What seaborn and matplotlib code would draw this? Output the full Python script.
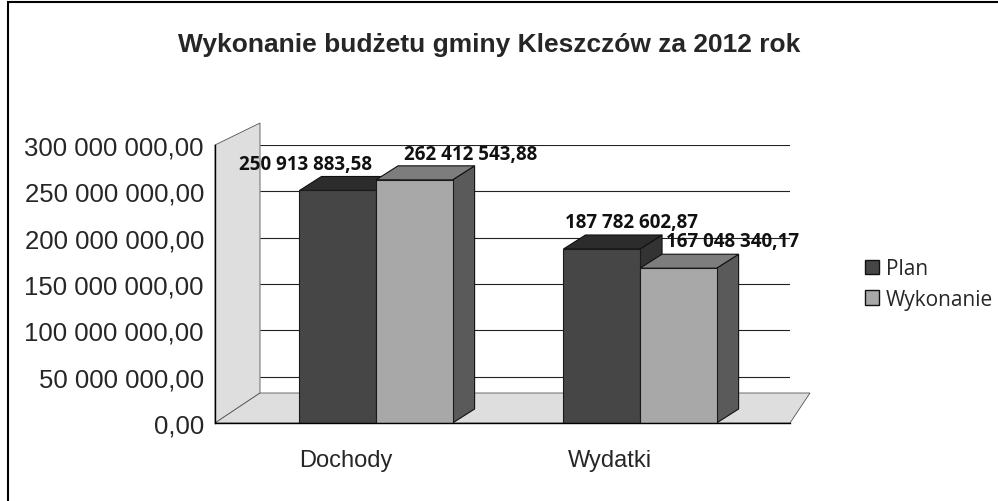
import matplotlib
matplotlib.use("Agg")
import matplotlib.pyplot as plt
import matplotlib.ticker as mticker
import matplotlib.transforms as mtransforms
from matplotlib.patches import Polygon, Rectangle
import seaborn as sns
import pandas as pd

# dane z wykresu
categories = ["Dochody", "Wydatki"]
series = ["Plan", "Wykonanie"]
plan = [250913883.58, 187782602.87]
wykonanie = [262412543.88, 167048340.17]
y_ticks = [0, 50e6, 100e6, 150e6, 200e6, 250e6, 300e6]

df = pd.DataFrame({
    "kategoria": categories * 2,
    "seria": [series[0]] * len(categories) + [series[1]] * len(categories),
    "kwota": plan + wykonanie,
})


def pl_format(v, pos=None):
    # 250 913 883,58
    return "{:,.2f}".format(v).replace(",", " ").replace(".", ",")


sns.set_style("white")
plt.rcParams["font.family"] = ["Liberation Sans", "DejaVu Sans"]

fig = plt.figure(figsize=(9.98, 5.02), dpi=100)
ax = fig.add_axes([215 / 998, 1 - 424 / 502, (790 - 215) / 998, (424 - 146) / 502])

front = {"Plan": "#464646", "Wykonanie": "#a8a8a8"}
top = {"Plan": "#2c2c2c", "Wykonanie": "#7d7d7d"}
side = {"Plan": "#333333", "Wykonanie": "#5a5a5a"}
wall = "#dedede"

sns.barplot(data=df, x="kategoria", y="kwota", hue="seria", palette=front,
            width=0.58, ax=ax, legend=False, edgecolor="#1a1a1a", linewidth=0.8)

ax.set_xlim(-0.61, 1.568)
ax.set_ylim(0, 300e6)
ax.set_yticks(y_ticks)
ax.yaxis.set_major_formatter(mticker.FuncFormatter(pl_format))
ax.set_xlabel("")
ax.set_ylabel("")

for s in ["top", "right"]:
    ax.spines[s].set_visible(False)
for s in ["left", "bottom"]:
    ax.spines[s].set_color("black")
    ax.spines[s].set_linewidth(1.0)

ax.tick_params(axis="y", which="major", direction="out", length=6, width=1,
               color="black", labelsize=18.5, pad=2)
ax.tick_params(axis="x", which="major", length=0, labelsize=17, pad=19)
ax.xaxis.set_minor_locator(mticker.FixedLocator([0.5]))
ax.tick_params(axis="x", which="minor", direction="out", length=7, width=1, color="black")

# etykiety kategorii troche w lewo (jak w wykresie 3D)
shift = mtransforms.ScaledTranslation(-0.30, 0, fig.dpi_scale_trans)
for lbl in ax.get_xticklabels():
    lbl.set_transform(lbl.get_transform() + shift)

fig.canvas.draw()
ident = mtransforms.IdentityTransform()

# sciana boczna i podloga (jasnoszare)
wx, wy = 45, 30
(xl, yb), (xr, yt) = ax.transAxes.transform([(0, 0), (1, 1)])
left_wall = [(xl, yb), (xl, yt), (xl + wx, yt + 22), (xl + wx, yb + wy)]
floor = [(xl, yb), (xr, yb), (xr + 20, yb + wy), (xl + wx, yb + wy)]
for pts in [left_wall, floor]:
    ax.add_patch(Polygon(pts, closed=True, facecolor=wall, edgecolor="#555555",
                         linewidth=0.6, transform=ident, clip_on=False, zorder=0.3))

# linie siatki na tylnej scianie
ax.hlines([t for t in y_ticks if t > 0], wx / (xr - xl), 1,
          transform=ax.get_yaxis_transform(), color="#222222", linewidth=0.8, zorder=0.5)

# pseudo 3D - gorna i boczna sciana slupka
dx, dy = 22, 14
bars = sorted(ax.patches[:4], key=lambda p: p.get_x())
names = [s for c in categories for s in series]
for p, name in zip(bars, names):
    (x0, y0), (x1, y1) = ax.transData.transform(
        [(p.get_x(), 0), (p.get_x() + p.get_width(), p.get_height())])
    top_face = [(x0, y1), (x1, y1), (x1 + dx, y1 + dy), (x0 + dx, y1 + dy)]
    side_face = [(x1, y0), (x1 + dx, y0 + dy), (x1 + dx, y1 + dy), (x1, y1)]
    for pts, col in [(side_face, side[name]), (top_face, top[name])]:
        ax.add_patch(Polygon(pts, closed=True, facecolor=col, edgecolor="#111111",
                             linewidth=0.8, transform=ident,
                             clip_on=False, zorder=0.9))

# etykiety wartosci
label_offsets = [(-32, 26), (56, 26), (30, 27), (54, 27)]
for p, (ox, oy) in zip(bars, label_offsets):
    ax.annotate(pl_format(p.get_height()),
                (p.get_x() + p.get_width() / 2, p.get_height()),
                xytext=(ox, oy), textcoords="offset pixels",
                ha="center", va="center", fontsize=13.5, fontweight="bold",
                family=["Open Sans", "DejaVu Sans"], color="#111111",
                annotation_clip=False, zorder=5)

fig.suptitle("Wykonanie budżetu gminy Kleszczów za 2012 rok", x=489 / 998, y=1 - 45 / 502,
             va="center", fontsize=19, fontweight="bold")

handles = [Rectangle((0, 0), 1, 1, facecolor=front[s], edgecolor="#111111") for s in series]
fig.legend(handles, series, loc="center left", bbox_to_anchor=(846 / 998, 1 - 285 / 502),
           frameon=False, handlelength=0.7, handleheight=0.7, handletextpad=0.3,
           labelspacing=0.45, prop={"family": ["Open Sans", "DejaVu Sans"], "size": 15})

# ramka wokol wykresu
fig.add_artist(Rectangle((8 / 998, -0.02), 1.0, 1 - 3 / 502 + 0.02,
                         transform=fig.transFigure, fill=False,
                         edgecolor="black", linewidth=1.5))

fig.savefig("out.png", dpi=100)
